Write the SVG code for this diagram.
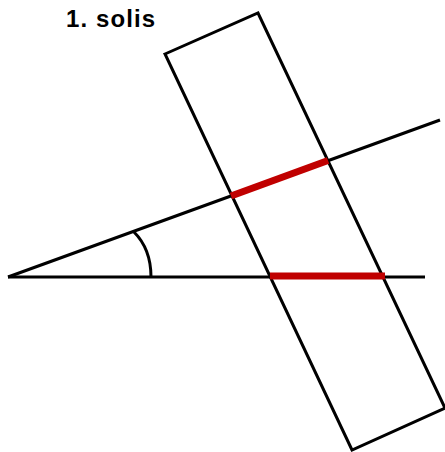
<svg xmlns="http://www.w3.org/2000/svg" width="445" height="452" viewBox="0 0 445 452">
<style>
.k{stroke:#000;stroke-width:3;fill:none}
.r{stroke:#c00000;stroke-width:7;fill:none;stroke-linecap:butt}
.t{font-family:"Liberation Sans",Arial,sans-serif;font-weight:bold;font-size:24px;fill:#000}
</style>
<rect width="445" height="452" fill="#fff"/>
<g id="title"><text class="t" x="66" y="27" textLength="89" lengthAdjust="spacing">1. solis</text></g>
<g id="strip"><polygon class="k" points="165,54 258,13 445,408 352,450"/></g>
<g id="connectors">
<line class="k" x1="8" y1="277" x2="440" y2="120"/>
<line class="k" x1="8" y1="277" x2="425" y2="277"/>
<path class="k" d="M134,232 C145,243 151,258 151,277"/>
<line class="r" x1="231" y1="196" x2="328" y2="160.5"/>
<line class="r" x1="270" y1="276" x2="385" y2="276"/>
</g>
</svg>
